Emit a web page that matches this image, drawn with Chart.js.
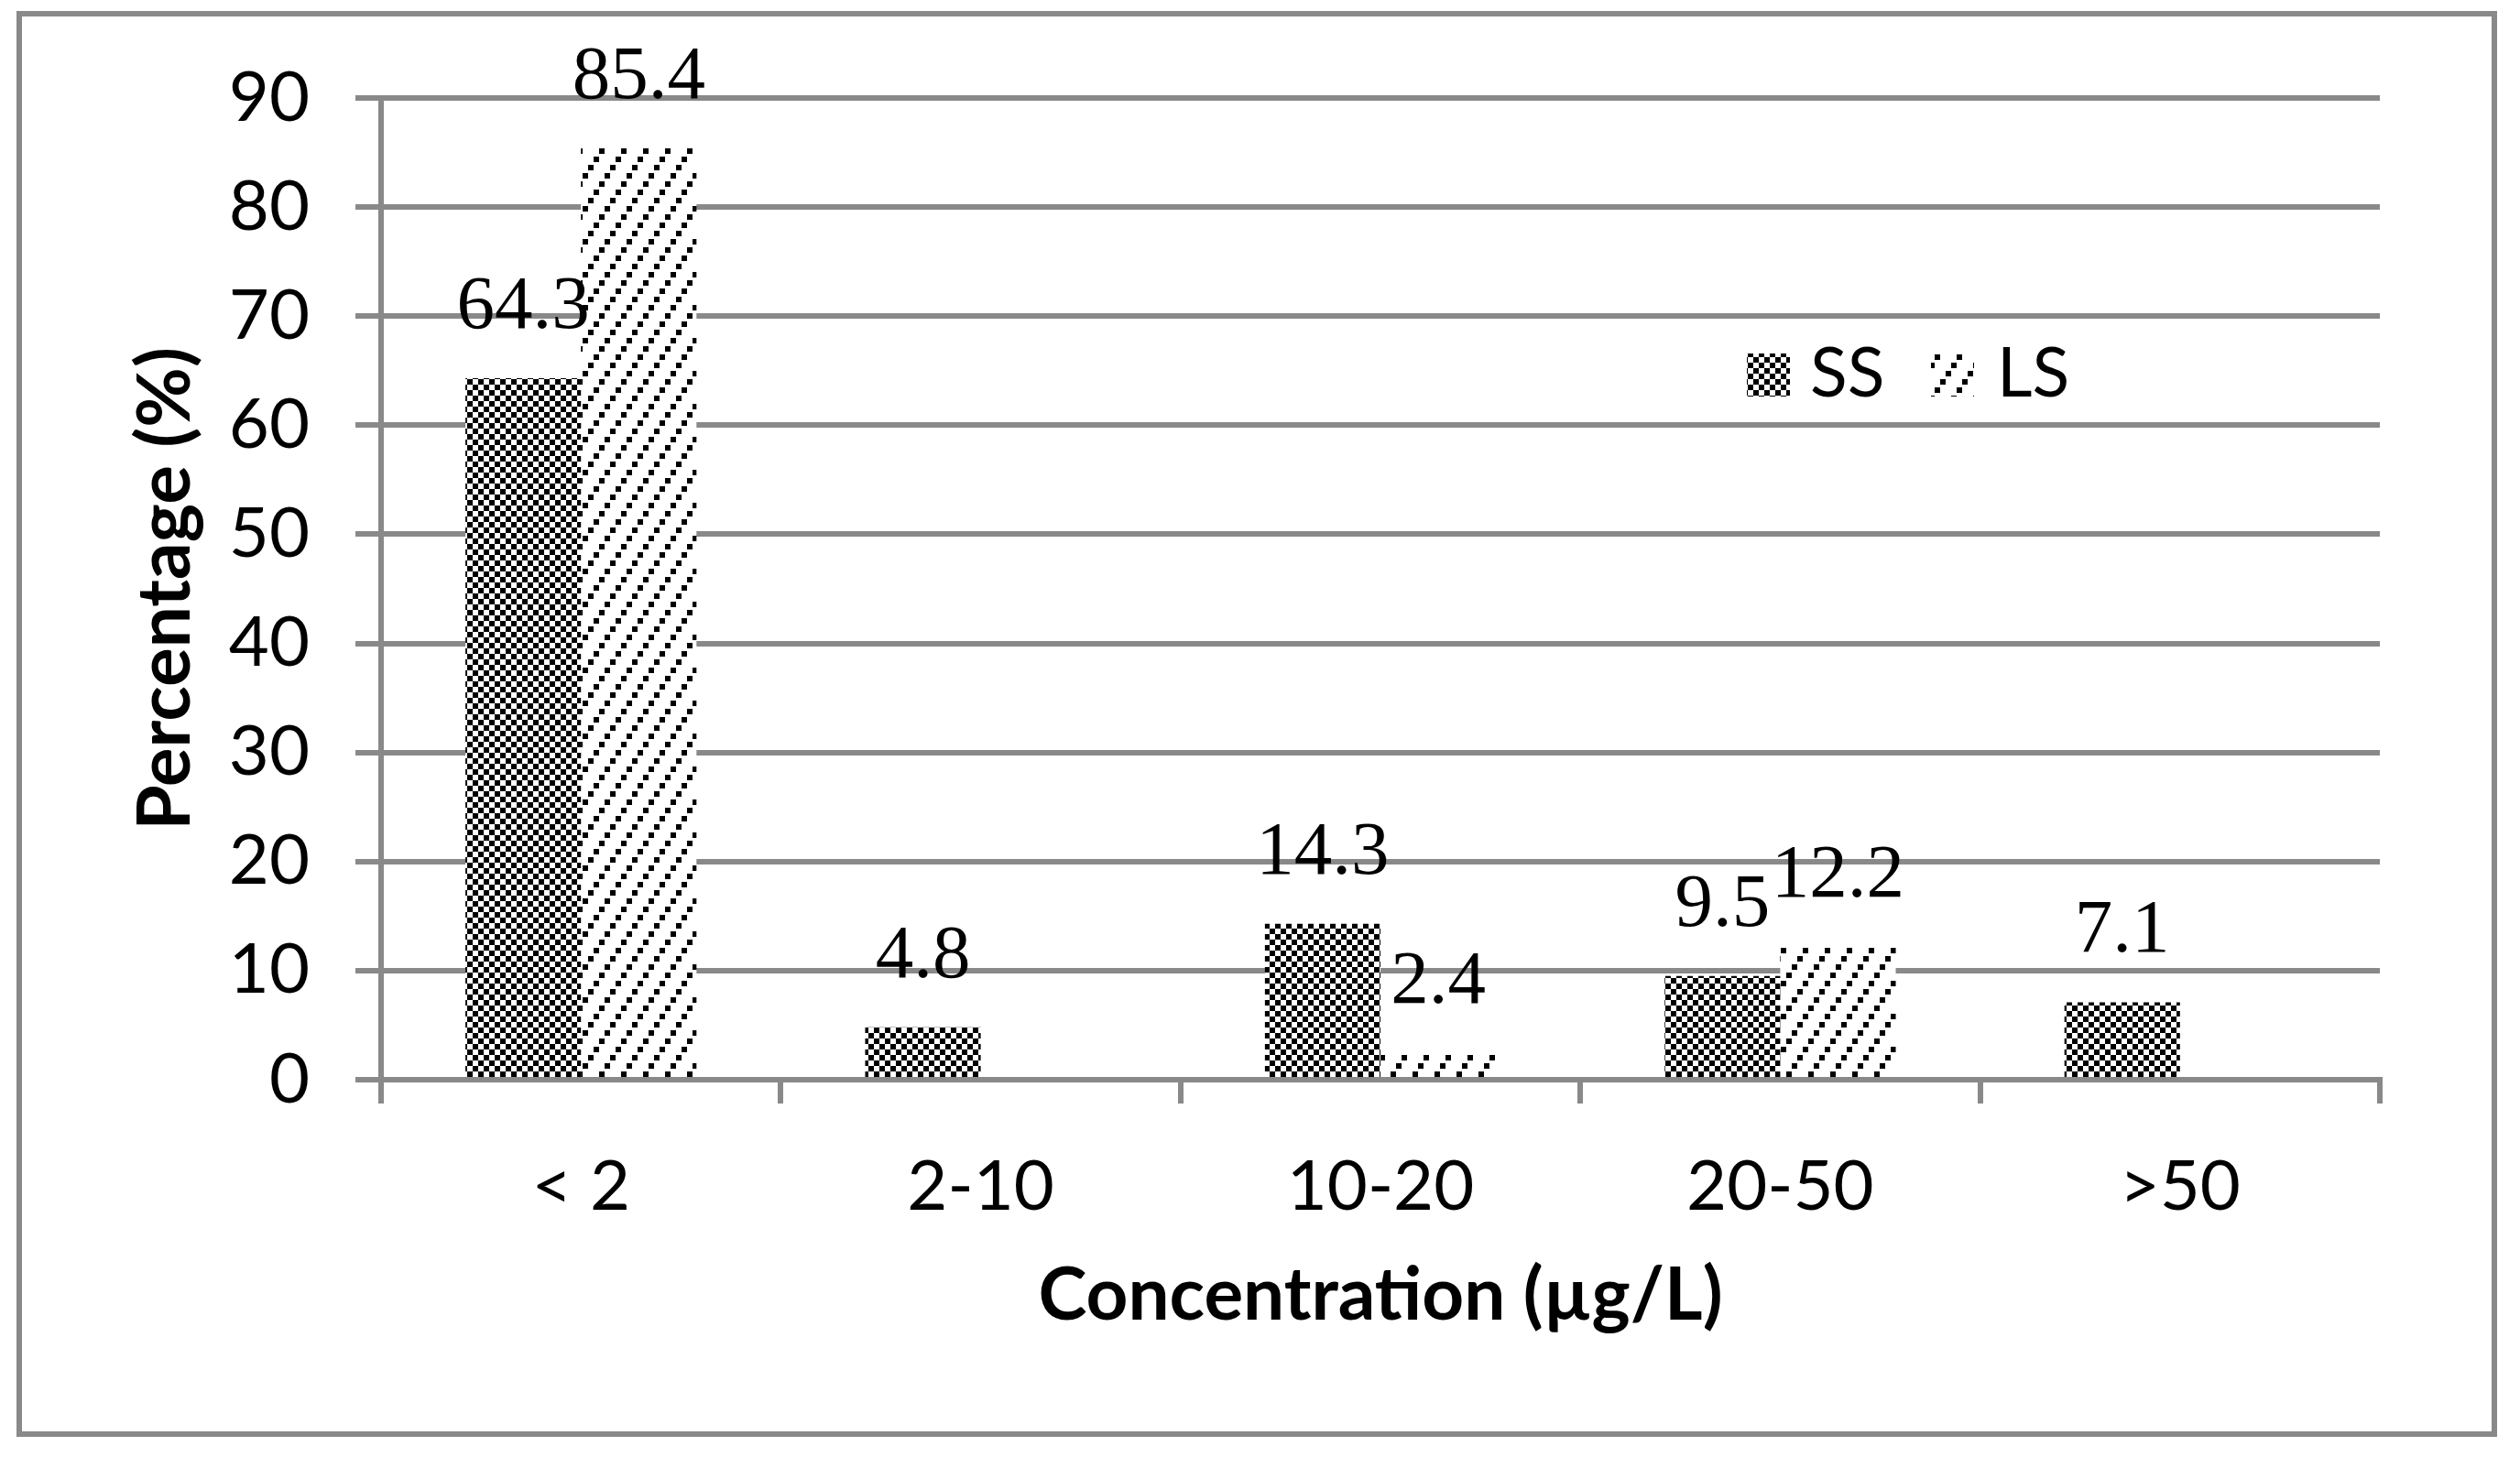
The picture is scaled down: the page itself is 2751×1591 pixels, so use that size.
<!DOCTYPE html>
<html>
<head>
<meta charset="utf-8">
<script src="https://cdn.jsdelivr.net/npm/chart.js@4.4.1/dist/chart.umd.min.js"></script>
<style>
  html, body { margin: 0; padding: 0; background: #fff; }
  canvas { display: block; }
</style>
</head>
<body>
<canvas id="chart" width="2751" height="1591"></canvas>
<script>
// Values.
const categories = ['< 2', '2-10', '10-20', '20-50', '>50'];
const ssValues = [64.3, 4.8, 14.3, 9.5, 7.1];
const lsValues = [85.4, null, 2.4, 12.2, null];
const yTicks = [0, 10, 20, 30, 40, 50, 60, 70, 80, 90];
const seriesNames = ['SS', 'LS'];

const GRAY = '#898989';
let canvas = document.getElementById('chart');
let mainCtx = canvas.getContext('2d');

// black/white checkerboard fill (SS)
function checkerPattern() {
    let c = document.createElement('canvas');
    c.width = 12; c.height = 12;
    let g = c.getContext('2d');
    g.fillStyle = '#fff';
    g.fillRect(0, 0, 12, 12);
    g.fillStyle = '#000';
    g.fillRect(0, 0, 6, 6);
    g.fillRect(6, 6, 6, 6);
    return mainCtx.createPattern(c, 'repeat');
}

// dotted upward diagonal fill (LS)
function hatchPattern() {
    let c = document.createElement('canvas');
    c.width = 24; c.height = 36;
    let g = c.getContext('2d');
    g.fillStyle = '#fff';
    g.fillRect(0, 0, 24, 36);
    g.fillStyle = '#000';
    for (let i = 0; i < 4; i++) {
        g.fillRect(i * 6, (3 - i) * 9, 6, 6);
    }
    return mainCtx.createPattern(c, 'repeat');
}

const fills = [checkerPattern(), hatchPattern()];

// outer frame + white background
const frame = {
    id: 'frame',
    beforeDraw(chart) {
        let ctx = chart.ctx;
        ctx.save();
        ctx.fillStyle = '#fff';
        ctx.fillRect(0, 0, chart.width, chart.height);
        ctx.strokeStyle = GRAY;
        ctx.lineWidth = 6;
        ctx.strokeRect(21, 15, 2702, 1551);
        ctx.restore();
    }
};

// numbers above the bars
const valueLabels = {
    id: 'valueLabels',
    afterDatasetsDraw(chart) {
        let ctx = chart.ctx;
        ctx.save();
        ctx.font = '83px "Liberation Serif", "Times New Roman", serif';
        ctx.fillStyle = '#000';
        ctx.textAlign = 'center';
        ctx.textBaseline = 'alphabetic';
        chart.data.datasets.forEach((ds, i) => {
            chart.getDatasetMeta(i).data.forEach((bar, j) => {
                let v = ds.data[j];
                if (v == null) return;
                ctx.fillText(v.toFixed(1), bar.x, bar.y - 55);
            });
        });
        ctx.restore();
    }
};

// legend sitting inside the plot, right of centre
const boxLegend = {
    id: 'boxLegend',
    afterDraw(chart) {
        let ctx = chart.ctx;
        let spots = [{box: 1907, text: 1976}, {box: 2108, text: 2180}];
        ctx.save();
        ctx.font = '75px Lato, "Open Sans", sans-serif';
        ctx.textBaseline = 'alphabetic';
        chart.data.datasets.forEach((ds, i) => {
            ctx.fillStyle = ds.backgroundColor;
            ctx.fillRect(spots[i].box, 386, 47, 47);
            ctx.fillStyle = '#000';
            ctx.fillText(ds.label, spots[i].text, 433);
        });
        ctx.restore();
    }
};

Chart.defaults.font.family = 'Lato, "Open Sans", sans-serif';
Chart.defaults.color = '#000';

let barChart = new Chart(canvas, {
    type: 'bar',
    data: {
        labels: categories,
        datasets: [
            {label: seriesNames[0], data: ssValues, backgroundColor: fills[0], borderWidth: 0},
            {label: seriesNames[1], data: lsValues, backgroundColor: fills[1], borderWidth: 0}
        ]
    },
    options: {
        responsive: false,
        animation: false,
        devicePixelRatio: 1,
        categoryPercentage: 0.578,
        barPercentage: 1.0,
        layout: {padding: {left: 0, top: 107, right: 153, bottom: 0}},
        plugins: {
            legend: {display: false},
            tooltip: {enabled: false}
        },
        scales: {
            x: {
                grid: {offset: true, drawOnChartArea: false, drawTicks: true, tickLength: 26, color: GRAY, lineWidth: 6},
                border: {display: true, color: GRAY, width: 6},
                ticks: {font: {size: 76}, color: '#000', padding: 46, maxRotation: 0, autoSkip: false},
                title: {
                    display: true,
                    text: 'Concentration (µg/L)',
                    font: {size: 80, weight: 'bold'},
                    color: '#000',
                    padding: {top: 0, bottom: 128}
                },
                afterFit(scale) { scale.height = 1591 - 1179; }
            },
            y: {
                min: 0,
                max: 90,
                afterBuildTicks(scale) { scale.ticks = yTicks.map(v => ({value: v})); },
                ticks: {font: {size: 76}, color: '#000', padding: 50},
                grid: {color: GRAY, lineWidth: 6, tickLength: 28},
                border: {color: GRAY, width: 6},
                title: {
                    display: true,
                    text: 'Percentage (%)',
                    font: {size: 80, weight: 'bold'},
                    color: '#000',
                    padding: {top: 133, bottom: 0}
                },
                afterFit(scale) { scale.width = 416; }
            }
        }
    },
    plugins: [frame, valueLabels, boxLegend]
});
</script>
</body>
</html>
